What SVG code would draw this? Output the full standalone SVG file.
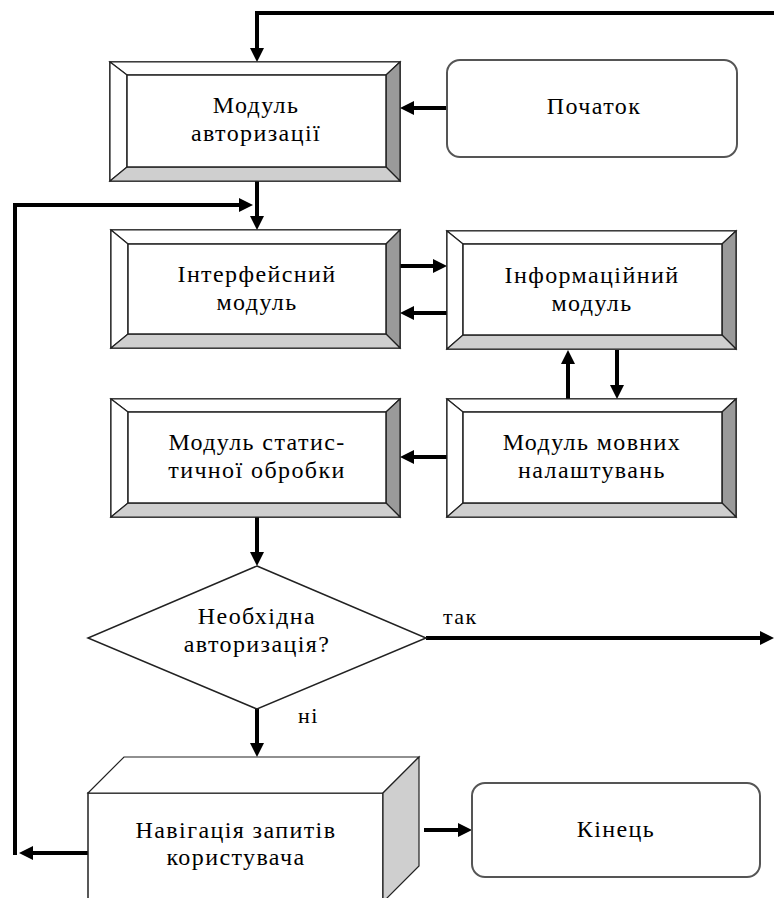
<svg xmlns="http://www.w3.org/2000/svg" width="774" height="898" viewBox="0 0 774 898">
<defs>
<style>
.o{fill:#fff;stroke:#222;stroke-width:1.5}
.w{fill:#fff;stroke:#222;stroke-width:1.2}
.lg{fill:#cfcfcf;stroke:#222;stroke-width:1.2}
.dg{fill:#9a9a9a;stroke:#222;stroke-width:1.2}
.r{fill:#fff;stroke:#555;stroke-width:2}
.c{fill:none;stroke:#000;stroke-width:4}
.t{font-family:'Liberation Serif','Times New Roman',serif;font-size:24px;fill:#000;text-anchor:middle;letter-spacing:1.4px}
.l{font-family:'Liberation Serif','Times New Roman',serif;font-size:22px;fill:#000;letter-spacing:1.4px}
</style>
<marker id="a" markerUnits="userSpaceOnUse" markerWidth="16" markerHeight="14" refX="2" refY="7" orient="auto">
<path d="M0,0 L14,7 L0,14 Z" fill="#000"/>
</marker>
</defs>

<g id="connectors">
<path class="c" d="M774,13 H257 V50" marker-end="url(#a)"/>
<path class="c" d="M447,108 H412" marker-end="url(#a)"/>
<path class="c" d="M257,181 V218" marker-end="url(#a)"/>
<path class="c" d="M15,855 V205 H241" marker-end="url(#a)"/>
<path class="c" d="M88,853 H31" marker-end="url(#a)"/>
<path class="c" d="M400,266 H435" marker-end="url(#a)"/>
<path class="c" d="M447,313 H412" marker-end="url(#a)"/>
<path class="c" d="M568,399 V362" marker-end="url(#a)"/>
<path class="c" d="M617,350 V387" marker-end="url(#a)"/>
<path class="c" d="M447,457 H412" marker-end="url(#a)"/>
<path class="c" d="M257,517 V554" marker-end="url(#a)"/>
<path class="c" d="M426,638 H762" marker-end="url(#a)"/>
<path class="c" d="M257,709 V745" marker-end="url(#a)"/>
<path class="c" d="M424,830 H460" marker-end="url(#a)"/>
</g>

<g id="start">
<rect class="r" x="447" y="60" width="290" height="97" rx="13"/>
<text class="t" x="594" y="114">Початок</text>
</g>

<g id="auth">
<rect class="o" x="110" y="62" width="290" height="119"/>
<polygon class="w" points="110,62 400,62 386,75 127,75"/>
<polygon class="w" points="110,62 127,75 127,167 110,181"/>
<polygon class="dg" points="400,62 400,181 386,167 386,75"/>
<polygon class="lg" points="110,181 127,167 386,167 400,181"/>
<rect class="o" x="127" y="75" width="259" height="92"/>
<text class="t" x="256" y="113">Модуль</text>
<text class="t" x="256" y="141">авторизації</text>
</g>

<g id="interface">
<rect class="o" x="111" y="230" width="289" height="118"/>
<polygon class="w" points="111,230 400,230 386,244 128,244"/>
<polygon class="w" points="111,230 128,244 128,334 111,348"/>
<polygon class="dg" points="400,230 400,348 386,334 386,244"/>
<polygon class="lg" points="111,348 128,334 386,334 400,348"/>
<rect class="o" x="128" y="244" width="258" height="90"/>
<text class="t" x="257" y="282">Інтерфейсний</text>
<text class="t" x="257" y="310">модуль</text>
</g>

<g id="info">
<rect class="o" x="447" y="231" width="289" height="118"/>
<polygon class="w" points="447,231 736,231 722,244 463,244"/>
<polygon class="w" points="447,231 463,244 463,335 447,349"/>
<polygon class="dg" points="736,231 736,349 722,335 722,244"/>
<polygon class="lg" points="447,349 463,335 722,335 736,349"/>
<rect class="o" x="463" y="244" width="259" height="91"/>
<text class="t" x="592" y="283">Інформаційний</text>
<text class="t" x="592" y="311">модуль</text>
</g>

<g id="lang">
<rect class="o" x="447" y="399" width="289" height="118"/>
<polygon class="w" points="447,399 736,399 722,412 463,412"/>
<polygon class="w" points="447,399 463,412 463,503 447,517"/>
<polygon class="dg" points="736,399 736,517 722,503 722,412"/>
<polygon class="lg" points="447,517 463,503 722,503 736,517"/>
<rect class="o" x="463" y="412" width="259" height="91"/>
<text class="t" x="592" y="450">Модуль мовних</text>
<text class="t" x="592" y="478">налаштувань</text>
</g>

<g id="stats">
<rect class="o" x="111" y="399" width="289" height="118"/>
<polygon class="w" points="111,399 400,399 386,412 128,412"/>
<polygon class="w" points="111,399 128,412 128,503 111,517"/>
<polygon class="dg" points="400,399 400,517 386,503 386,412"/>
<polygon class="lg" points="111,517 128,503 386,503 400,517"/>
<rect class="o" x="128" y="412" width="258" height="91"/>
<text class="t" x="257" y="450">Модуль статис-</text>
<text class="t" x="257" y="478">тичної обробки</text>
</g>

<g id="decision">
<polygon class="o" points="257,566 426,638 257,709 88,638"/>
<text class="t" x="257" y="624">Необхідна</text>
<text class="t" x="257" y="652">авторизація?</text>
<text class="l" x="443" y="624">так</text>
<text class="l" x="298" y="723">ні</text>
</g>

<g id="navigation">
<rect class="o" x="88" y="793" width="295" height="120"/>
<polygon class="w" points="88,793 124,757 419,757 383,793"/>
<polygon class="lg" points="383,793 419,757 419,866 383,902"/>
<text class="t" x="236" y="838">Навігація запитів</text>
<text class="t" x="236" y="865">користувача</text>
</g>

<g id="end">
<rect class="r" x="472" y="783" width="288" height="94" rx="13"/>
<text class="t" x="616" y="837">Кінець</text>
</g>
</svg>
